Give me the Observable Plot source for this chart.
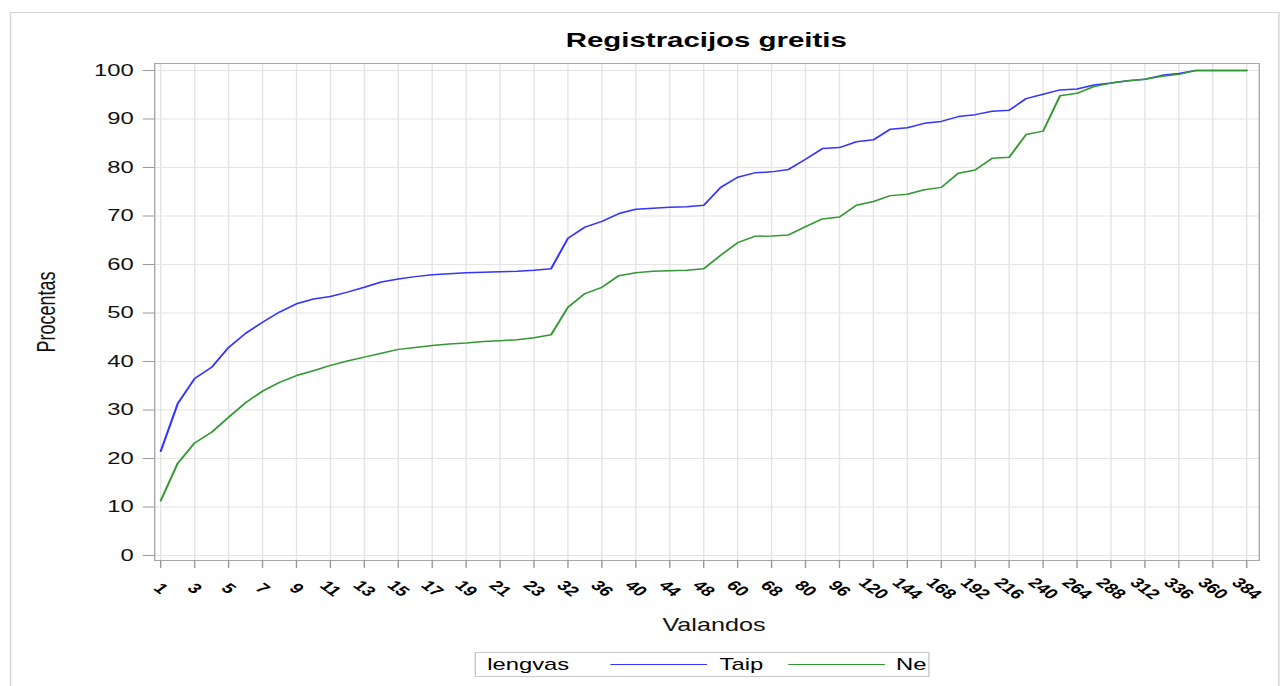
<!DOCTYPE html>
<html>
<head>
<meta charset="utf-8">
<script src="https://cdn.jsdelivr.net/npm/d3@7"></script>
<script src="https://cdn.jsdelivr.net/npm/@observablehq/plot@0.6"></script>
<style>
html,body{margin:0;padding:0;background:#fff;overflow:hidden;width:1282px;height:686px;}
#stage{position:absolute;left:0;top:0;width:916px;height:686px;transform:scaleX(1.4);transform-origin:0 0;font-family:"Liberation Sans",Arial,sans-serif;color:#000;}
#border{position:absolute;left:7px;top:12px;width:907px;height:700px;border:1px solid #d4d4d4;box-sizing:border-box;}
#title{position:absolute;left:110px;width:789px;top:28px;line-height:24px;text-align:center;font-weight:bold;font-size:21px;}
#chart{position:absolute;left:0;top:60px;}
#legend{position:absolute;left:339px;top:652px;width:325px;height:25px;border:1px solid #c8c8c8;box-sizing:border-box;font-size:17px;}
#legend span{position:absolute;top:1px;line-height:21px;}
#legend i{position:absolute;top:11px;height:0;border-top:1.5px solid;}
</style>
</head>
<body>
<div id="stage">
  <div id="border"></div>
  <div id="title">Registracijos greitis</div>
  <div id="chart"></div>
  <div id="legend">
    <span style="left:8px">lengvas</span>
    <i style="left:96px;width:69px;border-color:#3535ff"></i>
    <span style="left:174px">Taip</span>
    <i style="left:223px;width:69px;border-color:#339933"></i>
    <span style="left:300px">Ne</span>
  </div>
</div>
<script>
// Categories (hours) on the ordinal x axis
const hours = ["1","2","3","4","5","6","7","8","9","10","11","12","13","14","15","16","17","18","19","20","21","22","23","24",
  "32","34","36","38","40","42","44","46","48","54","60","64","68","72","80","88","96","108","120","132","144","156","168","180",
  "192","204","216","228","240","252","264","276","288","300","312","324","336","348","360","372","384"];
// Labelled ticks
const tickHours = ["1","3","5","7","9","11","13","15","17","19","21","23","32","36","40","44","48","60","68","80","96","120",
  "144","168","192","216","240","264","288","312","336","360","384"];
const yTicks = [0,10,20,30,40,50,60,70,80,90,100];
// Series: lengvas = Taip
const taip = [21.5,31.3,36.5,38.8,42.9,45.8,48.1,50.2,51.9,52.9,53.4,54.3,55.3,56.4,57.0,57.5,57.9,58.1,58.3,58.4,58.5,58.6,58.8,59.1,
  65.4,67.7,68.9,70.5,71.4,71.6,71.8,71.9,72.2,75.9,78.0,78.9,79.1,79.6,81.7,83.9,84.1,85.3,85.7,87.9,88.2,89.1,89.5,90.5,
  90.9,91.6,91.8,94.2,95.1,96.0,96.2,97.0,97.4,97.9,98.2,99.0,99.4,100,100,100,100];
// Series: lengvas = Ne
const ne = [11.3,19.0,23.2,25.4,28.5,31.5,33.9,35.7,37.1,38.1,39.2,40.1,40.9,41.7,42.5,42.9,43.3,43.6,43.8,44.1,44.3,44.5,44.9,45.5,
  51.2,54.0,55.3,57.7,58.3,58.6,58.7,58.8,59.1,61.9,64.5,65.8,65.9,66.1,67.8,69.4,69.8,72.2,73.0,74.2,74.5,75.4,75.9,78.8,
  79.5,81.9,82.1,86.8,87.5,94.8,95.3,96.7,97.4,97.9,98.2,98.8,99.2,100,100,100,100];

const taipRows = hours.map((h, i) => ({hour: h, value: taip[i]}));
const neRows = hours.map((h, i) => ({hour: h, value: ne[i]}));

const font = "Liberation Sans, Arial, sans-serif";
const chart = Plot.plot({
  width: 916,
  height: 580,
  marginLeft: 110,
  marginRight: 17,
  marginTop: 3,
  marginBottom: 80,
  style: {fontFamily: font, background: "transparent", color: "#000", overflow: "visible"},
  x: {type: "point", domain: hours, range: [114.3, 890], padding: 0, round: false},
  y: {domain: [0, 100], range: [495, 10]},
  marks: [
    Plot.gridX(tickHours, {stroke: "#e4e4e4", strokeOpacity: 1, strokeWidth: 1}),
    Plot.gridY(yTicks, {stroke: "#e4e4e4", strokeOpacity: 1, strokeWidth: 1}),
    Plot.frame({stroke: "#a8a8a8"}),
    Plot.axisY(yTicks, {tickSize: 8, tickPadding: 7, fontSize: 17, stroke: "#999", fill: "#111", label: null}),
    Plot.axisX(tickHours, {tickSize: 8, tickPadding: 20, tickRotate: 45, textAnchor: "middle", lineAnchor: "middle",
      fontSize: 14, fontWeight: "bold", stroke: "#999", fill: "#000", label: null}),
    Plot.text(["Procentas"], {text: d => d, frameAnchor: "left", dx: -77, rotate: -90, fontSize: 18, fill: "#111",
      textAnchor: "middle", lineAnchor: "middle"}),
    Plot.text(["Valandos"], {text: d => d, frameAnchor: "bottom", dx: 5, dy: 65, fontSize: 18, fill: "#111",
      textAnchor: "middle", lineAnchor: "middle"}),
    Plot.line(taipRows, {x: "hour", y: "value", stroke: "#3535ff", strokeWidth: 1.5}),
    Plot.line(neRows, {x: "hour", y: "value", stroke: "#339933", strokeWidth: 1.5})
  ]
});
document.getElementById("chart").appendChild(chart);
</script>
</body>
</html>
